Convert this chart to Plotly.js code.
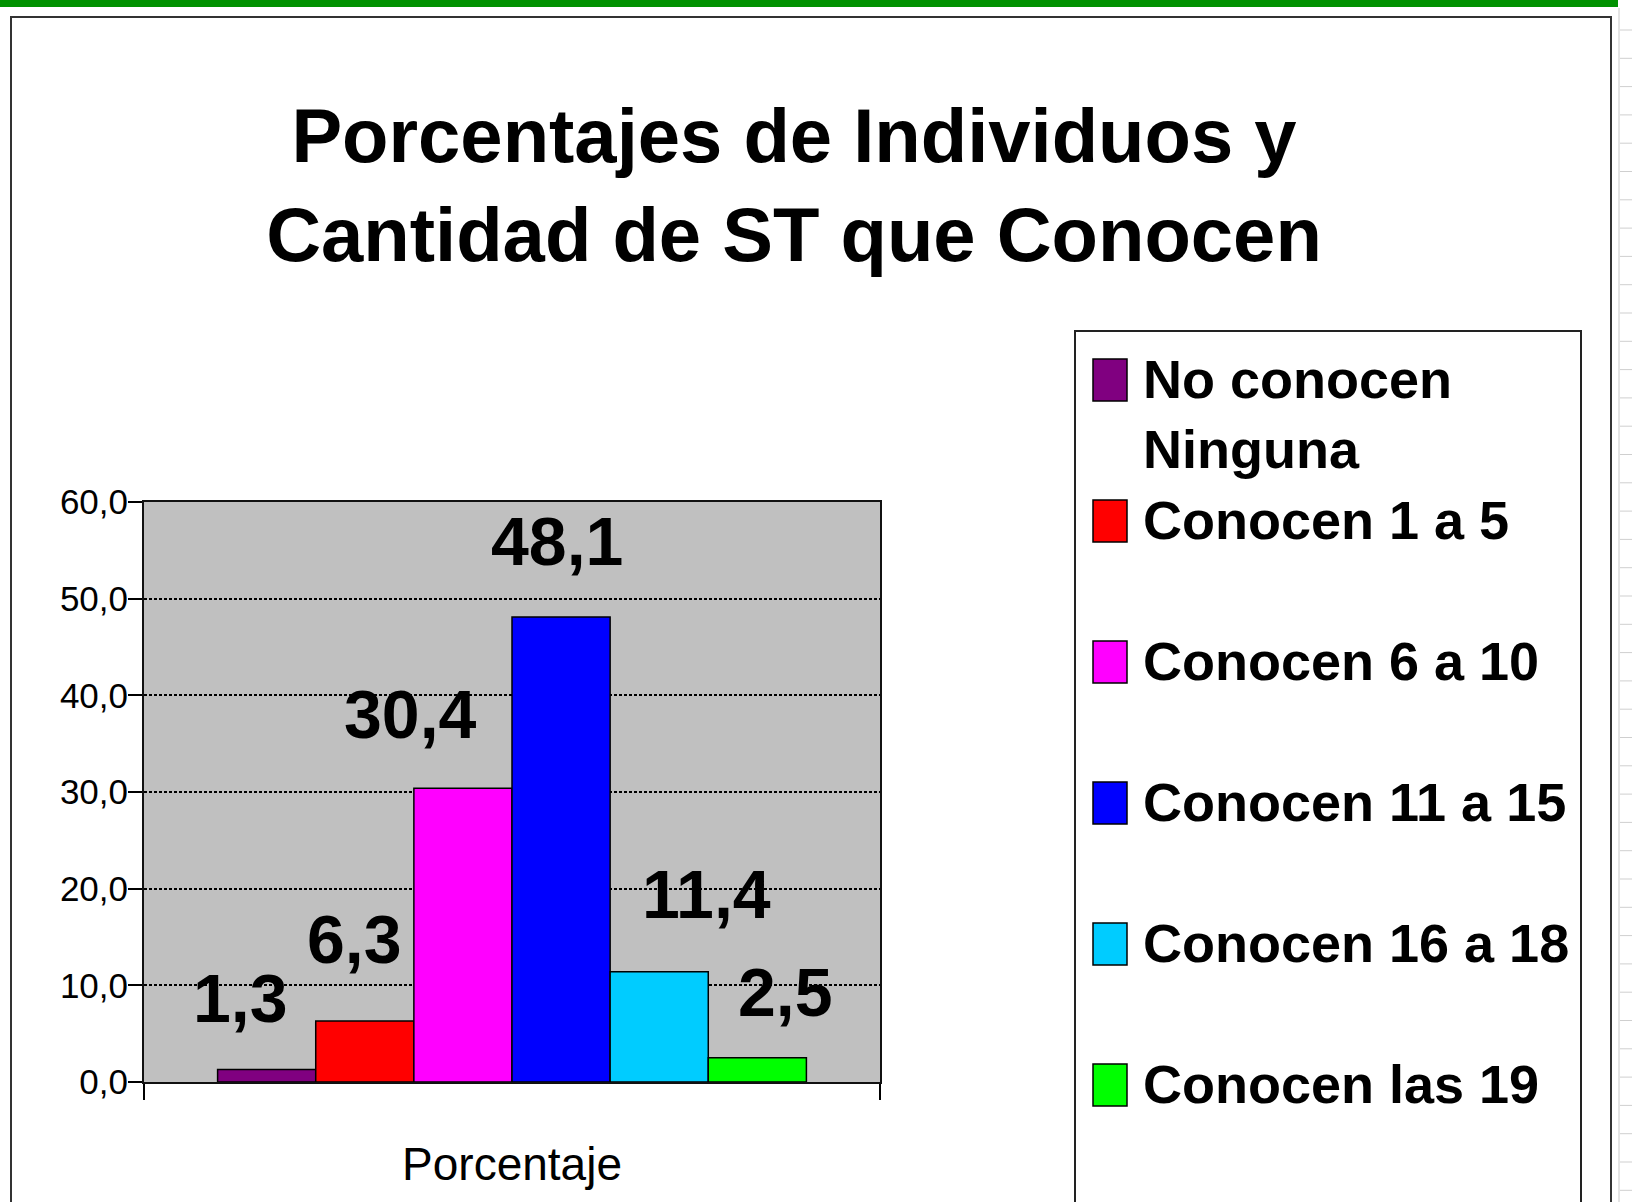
<!DOCTYPE html>
<html>
<head>
<meta charset="utf-8">
<script src="https://cdn.plot.ly/plotly-3.0.1.min.js"></script>
<style>
html,body{margin:0;padding:0;background:#ffffff;}
#chart{width:1632px;height:1202px;}
</style>
</head>
<body>
<div id="chart"></div>
<script>
// ---- data ----
const categories = ['Porcentaje'];
const seriesNames = ['No conocen Ninguna', 'Conocen 1 a 5', 'Conocen 6 a 10', 'Conocen 11 a 15', 'Conocen 16 a 18', 'Conocen las 19'];
const legendLabels = ['No conocen<br>Ninguna', 'Conocen 1 a 5', 'Conocen 6 a 10', 'Conocen 11 a 15', 'Conocen 16 a 18', 'Conocen las 19'];
const values = [1.3, 6.3, 30.4, 48.1, 11.4, 2.5];
const colors = ['#800080', '#ff0000', '#ff00ff', '#0000ff', '#00ccff', '#00ff00'];
const yTickVals = [0, 10, 20, 30, 40, 50, 60];
const titleText = 'Porcentajes de Individuos y<br>Cantidad de ST que Conocen';

// ---- style (pixel offsets of the data labels, as dragged in the original) ----
const labelOffsets = [[-26, 71], [-10, 82], [-52, 74], [-4, 76], [47, 78], [28, 66]];

const W = 1632, H = 1202;
const L = 144, R = 880, T = 502, B = 1082;
const xp = px => (px - L) / (R - L);
const yp = py => (B - py) / (B - T);

const SANS = '"Liberation Sans", Arial, "DejaVu Sans", sans-serif';

const bargap = 0.2;
const nS = values.length;
const barW = (1 - bargap) / nS;
const barCenter = i => -0.5 + bargap / 2 + (i + 0.5) * barW;

const traces = values.map((v, i) => ({
  type: 'bar',
  name: seriesNames[i],
  x: categories,
  y: [v],
  marker: {color: colors[i], line: {color: '#000000', width: 1.5}},
  showlegend: false,
  hoverinfo: 'skip'
}));

const fmt = v => v.toFixed(1).replace('.', ',');

const annotations = [];
values.forEach((v, i) => {
  annotations.push({
    xref: 'x', yref: 'y',
    x: barCenter(i), y: v,
    xshift: labelOffsets[i][0], yshift: labelOffsets[i][1],
    xanchor: 'center', yanchor: 'middle',
    text: fmt(v), showarrow: false,
    font: {family: SANS, size: 68, color: '#000000', weight: 700}
  });
});

const shapes = [];
// green band at the very top
shapes.push({type: 'rect', xref: 'paper', yref: 'paper', x0: xp(0), x1: xp(1618), y0: yp(0), y1: yp(7),
  fillcolor: '#009100', line: {width: 0}, layer: 'below'});
// spreadsheet strip on the right
shapes.push({type: 'line', xref: 'paper', yref: 'paper', x0: xp(1619), x1: xp(1619), y0: yp(8), y1: yp(H),
  line: {color: '#c8c8c8', width: 1}});
for (let y = 30; y < H; y += 28.3) {
  shapes.push({type: 'line', xref: 'paper', yref: 'paper', x0: xp(1620), x1: xp(W), y0: yp(y), y1: yp(y),
    line: {color: '#cfcfcf', width: 1}});
}
// chart area border
shapes.push({type: 'rect', xref: 'paper', yref: 'paper', x0: xp(11), x1: xp(1611), y0: yp(17), y1: yp(H + 20),
  line: {color: '#333333', width: 2}, fillcolor: 'rgba(0,0,0,0)'});
// legend box
shapes.push({type: 'rect', xref: 'paper', yref: 'paper', x0: xp(1075), x1: xp(1581), y0: yp(331), y1: yp(H + 20),
  line: {color: '#222222', width: 2}, fillcolor: 'rgba(0,0,0,0)'});

// legend entries
const legTop = 380, legStep = 141;
legendLabels.forEach((lab, i) => {
  const c = legTop + i * legStep;
  shapes.push({type: 'rect', xref: 'paper', yref: 'paper',
    x0: xp(1093), x1: xp(1127), y0: yp(c - 21), y1: yp(c + 21),
    fillcolor: colors[i], line: {color: '#000000', width: 1.5}});
  annotations.push({
    xref: 'paper', yref: 'paper', x: xp(1141), y: yp(c - 33),
    xanchor: 'left', yanchor: 'top', align: 'left',
    text: lab, showarrow: false,
    font: {family: SANS, size: 54, color: '#000000', weight: 700}
  });
});

const layout = {
  width: W, height: H,
  margin: {l: L, r: W - R, t: T, b: H - B, pad: 0},
  paper_bgcolor: '#ffffff',
  plot_bgcolor: '#c0c0c0',
  separators: ',.',
  barmode: 'group',
  bargap: bargap,
  bargroupgap: 0,
  showlegend: false,
  title: {
    text: titleText,
    font: {family: SANS, size: 76, color: '#000000', weight: 700},
    xref: 'container', x: 794 / W, xanchor: 'center',
    yref: 'container', y: 1 - 162 / H, yanchor: 'top'
  },
  xaxis: {
    type: 'category',
    range: [-0.5, 0.5],
    tickson: 'boundaries',
    ticks: 'outside', ticklen: 16, tickwidth: 2, tickcolor: '#000000',
    showline: true, linecolor: '#111111', linewidth: 2, mirror: true,
    showgrid: false, zeroline: false,
    tickfont: {family: SANS, size: 46, color: '#000000'},
    ticklabelstandoff: 41,
    fixedrange: true
  },
  yaxis: {
    range: [0, 60],
    tickvals: yTickVals,
    tickformat: '.1f',
    ticks: 'outside', ticklen: 14, tickwidth: 2, tickcolor: '#000000',
    showline: true, linecolor: '#111111', linewidth: 2, mirror: true,
    showgrid: true, gridcolor: '#000000', gridwidth: 2, griddash: '3px,2px',
    zeroline: false,
    tickfont: {family: SANS, size: 35, color: '#000000'},
    ticklabelstandoff: -7,
    fixedrange: true
  },
  shapes: shapes,
  annotations: annotations
};

Plotly.newPlot('chart', traces, layout, {staticPlot: true, displayModeBar: false});
</script>
</body>
</html>
